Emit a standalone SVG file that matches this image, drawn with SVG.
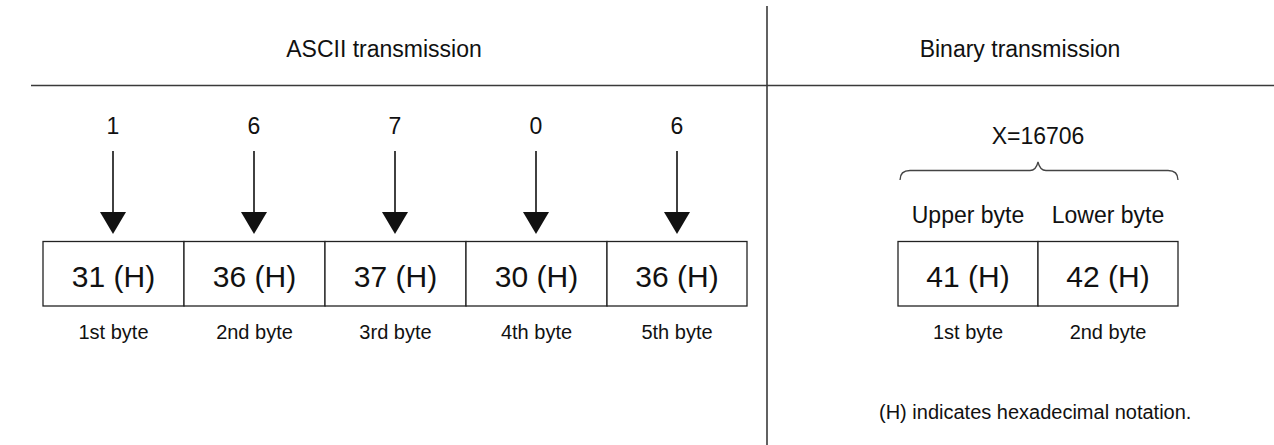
<svg xmlns="http://www.w3.org/2000/svg" width="1274" height="445" viewBox="0 0 1274 445">
<defs>
<style>
text{font-family:"Liberation Sans",Arial,sans-serif;fill:#111;text-anchor:middle}
.t{font-size:23px}
.v{font-size:30px}
.s{font-size:20px}
.cell{fill:#fff;stroke:#222;stroke-width:1.3}
.rule{stroke:#3a3a3a;stroke-width:1.6;fill:none}
.arr{stroke:#111;stroke-width:1.6}
.head{fill:#111}
</style>
</defs>
<rect width="1274" height="445" fill="#fff"/>
<g id="frame">
<line class="rule" x1="767" y1="6" x2="767" y2="445"/>
<line class="rule" x1="31" y1="85.5" x2="1274" y2="85.5"/>
<text class="t" x="384" y="57">ASCII transmission</text>
<text class="t" x="1020" y="57">Binary transmission</text>
</g>
<g id="connectors">
<line class="arr" x1="113" y1="151" x2="113" y2="213"/>
<polygon class="head" points="100,212 126,212 113,234"/>
<line class="arr" x1="254" y1="151" x2="254" y2="213"/>
<polygon class="head" points="241,212 267,212 254,234"/>
<line class="arr" x1="395" y1="151" x2="395" y2="213"/>
<polygon class="head" points="382,212 408,212 395,234"/>
<line class="arr" x1="536" y1="151" x2="536" y2="213"/>
<polygon class="head" points="523,212 549,212 536,234"/>
<line class="arr" x1="677" y1="151" x2="677" y2="213"/>
<polygon class="head" points="664,212 690,212 677,234"/>
</g>
<g id="digits">
<text class="t" x="113" y="134">1</text>
<text class="t" x="254" y="134">6</text>
<text class="t" x="395" y="134">7</text>
<text class="t" x="536" y="134">0</text>
<text class="t" x="677" y="134">6</text>
</g>
<g id="ascii-byte1">
<rect class="cell" x="43" y="241.5" width="141" height="64.5"/>
<text class="v" x="113.5" y="287">31 (H)</text>
<text class="s" x="113.5" y="339">1st byte</text>
</g>
<g id="ascii-byte2">
<rect class="cell" x="184" y="241.5" width="141" height="64.5"/>
<text class="v" x="254.5" y="287">36 (H)</text>
<text class="s" x="254.5" y="339">2nd byte</text>
</g>
<g id="ascii-byte3">
<rect class="cell" x="325" y="241.5" width="141" height="64.5"/>
<text class="v" x="395.5" y="287">37 (H)</text>
<text class="s" x="395.5" y="339">3rd byte</text>
</g>
<g id="ascii-byte4">
<rect class="cell" x="466" y="241.5" width="141" height="64.5"/>
<text class="v" x="536.5" y="287">30 (H)</text>
<text class="s" x="536.5" y="339">4th byte</text>
</g>
<g id="ascii-byte5">
<rect class="cell" x="607" y="241.5" width="140" height="64.5"/>
<text class="v" x="677" y="287">36 (H)</text>
<text class="s" x="677" y="339">5th byte</text>
</g>
<g id="binary-value">
<text class="t" x="1038" y="144">X=16706</text>
<path d="M900,180 Q900,170.5 910,170.5 L1030,170.5 Q1036,170.5 1038,162 Q1040,170.5 1046,170.5 L1168,170.5 Q1178,170.5 1178,180" fill="none" stroke="#444" stroke-width="1.3"/>
</g>
<g id="binary-upper">
<text class="t" x="968" y="223">Upper byte</text>
<rect class="cell" x="898" y="241.5" width="140" height="64.5"/>
<text class="v" x="968" y="287">41 (H)</text>
<text class="s" x="968" y="339">1st byte</text>
</g>
<g id="binary-lower">
<text class="t" x="1108" y="223">Lower byte</text>
<rect class="cell" x="1038" y="241.5" width="140" height="64.5"/>
<text class="v" x="1108" y="287">42 (H)</text>
<text class="s" x="1108" y="339">2nd byte</text>
</g>
<g id="note">
<text class="s" x="879" y="419" style="text-anchor:start">(H) indicates hexadecimal notation.</text>
</g>
</svg>
